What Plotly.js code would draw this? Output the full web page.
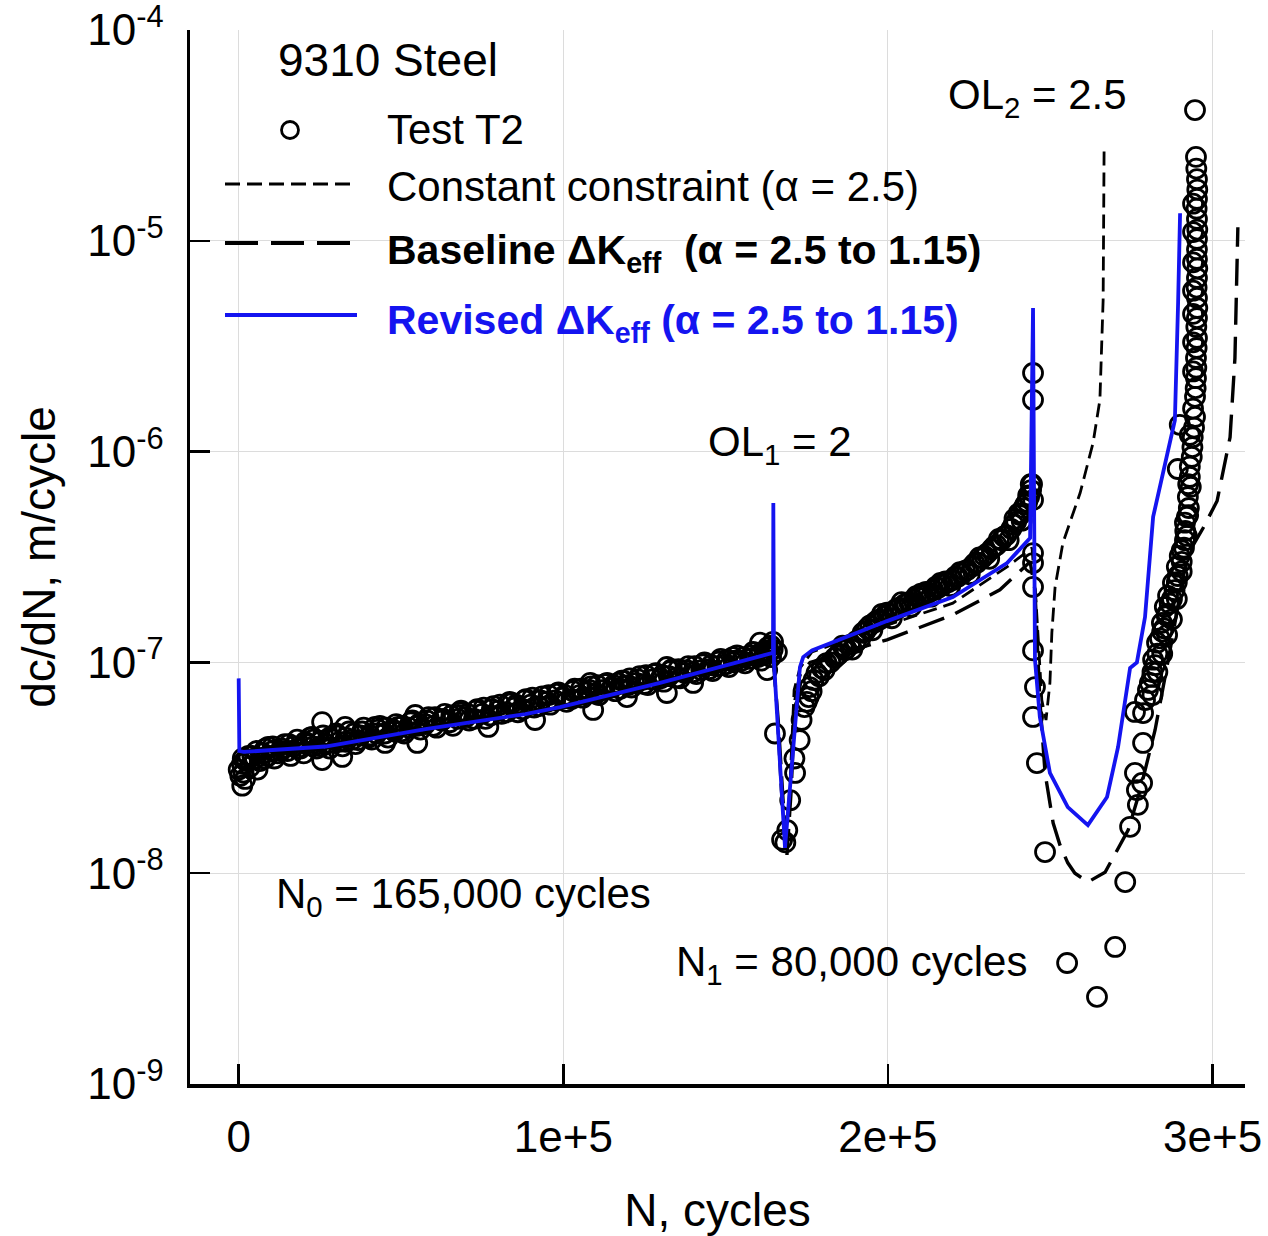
<!DOCTYPE html>
<html>
<head>
<meta charset="utf-8">
<script src="https://cdn.plot.ly/plotly-3.0.1.min.js"></script>
<style>html,body{margin:0;padding:0;background:#fff;}#chart{width:1268px;height:1236px;}</style>
</head>
<body>
<div id="chart"></div>
<script>
// ---- Test T2 data (N cycles, dc/dN m/cycle) ----
const testN_pre = [0,500,1000,1500,2500,3500,5000,6500,7500,9000,10500,12000,13500,15000,17000,19000,21000,23000,25000,27000,29000,31000,33000,35000,37500,40000,42500,45000,47500,50000,52500,55000,57500,60000,62500,65000,67500,70000,72500,75000,77500,80000,82500,85000,87500,90000,92500,95000,97500,100000,102500,105000,107500,110000,112500,115000,117500,120000,122500,125000,127500,130000,132500,135000,137500,140000,142500,145000,147500,150000,152500,155000,157500,160000,162000,163500,164500,
1250,2000,4200,5800,8200,11000,14200,16000,18000,20000,22000,24000,26000,28000,30000,32000,34000,36000,38500,41000,43500,46000,48500,51000,53500,56000,58500,61000,63500,66000,68500,71000,73500,76000,78500,81000,83500,86000,88500,91000,93500,96000,98500,101000,103500,106000,108500,111000,113500,116000,118500,121000,123500,126000,128500,131000,133500,136000,138500,141000,143500,146000,148500,151000,153500,156000,158500,161000,163000,164000,
3000,5500,8000,10500,13000,15500,18000,20500,23000,25500,28000,30500,33000,35500,38000,40500,43000,45500,48000,50500,53000,55500,58000,60500,63000,65500,68000,70500,73000,75500,78000,80500,83000,85500,88000,90500,93000,95500,98000,100500,103000,105500,108000,110500,113000,115500,118000,120500,123000,125500,128000,130500,133000,135500,138000,140500,143000,145500,148000,150500,153000,155500,158000,160500,162500,164000,
1100,2000,9100,22600,25700,25700,31900,32800,36800,42000,45100,49100,54400,55000,62700,67600,76900,84200,91300,108300,109200,116900,119600,131900,131900,140000,152300,160600,162800,164600,165800];
const testR_pre = [3.1e-8,2.9e-8,3.3e-8,3.0e-8,3.4e-8,3.2e-8,3.5e-8,3.4e-8,3.7e-8,3.6e-8,3.8e-8,3.7e-8,3.9e-8,3.8e-8,4.0e-8,3.9e-8,4.1e-8,4.0e-8,4.2e-8,4.1e-8,4.3e-8,4.2e-8,4.4e-8,4.3e-8,4.5e-8,4.4e-8,4.6e-8,4.6e-8,4.8e-8,4.7e-8,4.9e-8,5.0e-8,5.1e-8,5.0e-8,5.3e-8,5.2e-8,5.4e-8,5.5e-8,5.4e-8,5.7e-8,5.6e-8,5.9e-8,5.8e-8,6.1e-8,6.0e-8,6.3e-8,6.2e-8,6.5e-8,6.6e-8,6.8e-8,6.7e-8,7.0e-8,7.2e-8,7.1e-8,7.4e-8,7.6e-8,7.5e-8,7.8e-8,8.0e-8,7.9e-8,8.3e-8,8.4e-8,8.6e-8,8.5e-8,8.9e-8,9.0e-8,9.2e-8,9.3e-8,9.6e-8,9.8e-8,1.00e-7,1.02e-7,1.04e-7,1.06e-7,1.09e-7,1.12e-7,1.15e-7,
3.5e-8,2.8e-8,3.6e-8,3.1e-8,3.9e-8,3.5e-8,4.1e-8,3.6e-8,4.3e-8,3.7e-8,4.4e-8,3.9e-8,4.5e-8,3.9e-8,4.6e-8,4.0e-8,4.7e-8,4.1e-8,4.9e-8,4.3e-8,5.0e-8,4.4e-8,5.1e-8,4.6e-8,5.3e-8,4.8e-8,5.5e-8,4.9e-8,5.7e-8,5.0e-8,5.9e-8,5.3e-8,6.0e-8,5.4e-8,6.2e-8,5.7e-8,6.5e-8,5.8e-8,6.7e-8,6.1e-8,6.9e-8,6.3e-8,7.2e-8,6.5e-8,7.5e-8,6.8e-8,7.7e-8,7.0e-8,8.0e-8,7.3e-8,8.2e-8,7.6e-8,8.6e-8,7.8e-8,8.9e-8,8.1e-8,9.3e-8,8.4e-8,9.6e-8,8.8e-8,1.0e-7,9.1e-8,1.04e-7,9.5e-8,1.08e-7,9.9e-8,1.12e-7,1.02e-7,1.18e-7,1.06e-7,
3.6e-8,3.8e-8,3.5e-8,4.0e-8,3.8e-8,4.1e-8,3.9e-8,4.2e-8,4.3e-8,4.0e-8,4.4e-8,4.5e-8,4.2e-8,4.6e-8,4.7e-8,4.5e-8,4.8e-8,4.9e-8,4.7e-8,5.0e-8,5.2e-8,5.1e-8,5.3e-8,5.5e-8,5.4e-8,5.6e-8,5.8e-8,5.7e-8,5.9e-8,6.1e-8,6.0e-8,6.3e-8,6.4e-8,6.3e-8,6.6e-8,6.8e-8,6.6e-8,7.0e-8,7.1e-8,7.0e-8,7.3e-8,7.5e-8,7.4e-8,7.8e-8,7.9e-8,7.8e-8,8.2e-8,8.4e-8,8.3e-8,8.7e-8,8.8e-8,8.7e-8,9.1e-8,9.3e-8,9.2e-8,9.6e-8,9.8e-8,9.7e-8,1.01e-7,1.03e-7,1.02e-7,1.06e-7,1.08e-7,1.10e-7,1.14e-7,1.20e-7,
2.6e-8,3.44e-8,3.97e-8,4.43e-8,5.21e-8,3.44e-8,3.56e-8,4.94e-8,4.28e-8,4.94e-8,4.15e-8,4.94e-8,5.63e-8,4.15e-8,5.33e-8,5.63e-8,4.94e-8,6.42e-8,5.33e-8,7.99e-8,5.95e-8,7.99e-8,6.85e-8,9.51e-8,7.16e-8,7.99e-8,1.06e-7,1.24e-7,9.2e-8,1.25e-7,1.12e-7];

const testN_ol1 = [165200,167400,168400,169000,169900,171200,171400,172800,173400,174300,175000,175600,175900,176500,177100,178000,178800,179600,180500,181100,182300,183600,185000,186700,188300,190000,191500,193000,194500,196000,197500,199000,200500,202000,203500,205000,206500,208000,209500,211000,212500,214000,215500,217000,218500,220000,221500,223000,224500,226000,227500,229000,230500,232000,233500,235000,236500,238000,239500,240700,241800,242900,244100,
186000,189000,192200,195200,198200,201200,204200,207200,210200,213200,216200,219200,222200,225200,228200,231200,234200,237200,239000,241200,243500,244400,
184500,187200,190200,193600,196700,199700,202700,205700,208700,211700,214700,217700,220700,223700,226700,229700,232700,235700,238700,240300,242300,243200,244000];
const testR_ol1 = [4.6e-8,1.44e-8,1.40e-8,1.6e-8,2.22e-8,3.5e-8,2.99e-8,4.28e-8,5.33e-8,6.14e-8,6.5e-8,6.85e-8,7.64e-8,7.3e-8,8.25e-8,8.9e-8,8.6e-8,9.4e-8,9.2e-8,9.93e-8,1.0e-7,1.05e-7,1.10e-7,1.14e-7,1.21e-7,1.24e-7,1.30e-7,1.40e-7,1.50e-7,1.55e-7,1.60e-7,1.66e-7,1.70e-7,1.76e-7,1.82e-7,1.88e-7,1.93e-7,1.98e-7,2.03e-7,2.08e-7,2.14e-7,2.20e-7,2.26e-7,2.33e-7,2.40e-7,2.46e-7,2.55e-7,2.64e-7,2.75e-7,2.86e-7,2.98e-7,3.12e-7,3.28e-7,3.45e-7,3.60e-7,3.80e-7,4.02e-7,4.30e-7,4.65e-7,5.00e-7,5.40e-7,5.77e-7,6.57e-7,
1.20e-7,1.15e-7,1.38e-7,1.42e-7,1.70e-7,1.62e-7,1.93e-7,1.84e-7,2.12e-7,2.05e-7,2.38e-7,2.30e-7,2.68e-7,2.62e-7,3.15e-7,3.10e-7,3.85e-7,3.80e-7,4.80e-7,4.70e-7,6.1e-7,7.0e-7,
1.08e-7,1.16e-7,1.26e-7,1.45e-7,1.58e-7,1.72e-7,1.80e-7,1.90e-7,2.06e-7,2.16e-7,2.28e-7,2.42e-7,2.55e-7,2.72e-7,2.95e-7,3.20e-7,3.55e-7,3.95e-7,4.50e-7,5.1e-7,5.6e-7,6.2e-7,7.0e-7];

const testN_ol2 = [244700,244700,244700,244700,244700,244700,244700,245300,244700,245900,248400,255200,264400,270000,273100,274600,276100,277000,276700,278300,276100,278600,278600,279200,280100,280700,281400,281700,282300,282900,283800,284400,285300,285900,286300,287800,289000,289300,289900,292100,292100,292400,293000,293600,293900,294600,294600,294900,294900,295200,295200,295200,295200,295200,295200,295200,295200,295200,294900,294600,289900,289300,
293300,293800,294300,294800,295000,295100,295000,295300,295100,295300,295200,295300,295100,295300,295000,285000,286800,288300,290500,291200,291600,292700,
294000,294000,294000,294000,294000,294000,294000,294000,293000,293000,292500,292500,291500,291500,290500,290500,289000,289000,287500,287500,286000,286000,284500,284500,283000,283000,281500,281500];
const testR_ol2 = [2.36e-6,1.76e-6,5.89e-7,3.30e-7,2.96e-7,2.28e-7,1.14e-7,7.64e-8,5.51e-8,3.33e-8,1.26e-8,3.75e-9,2.59e-9,4.47e-9,9.08e-9,1.66e-8,2.99e-8,2.11e-8,2.48e-8,2.68e-8,5.82e-8,4.15e-8,5.75e-8,6.63e-8,7.40e-8,7.99e-8,8.53e-8,1.03e-7,9.7e-8,1.24e-7,1.30e-7,1.54e-7,1.83e-7,1.66e-7,2.07e-7,2.38e-7,2.84e-7,2.57e-7,3.20e-7,3.98e-7,4.90e-7,6.09e-7,7.58e-7,9.43e-7,1.17e-6,1.46e-6,1.82e-6,2.23e-6,2.78e-6,3.46e-6,4.30e-6,5.36e-6,6.66e-6,8.20e-6,1.02e-5,1.27e-5,1.58e-5,1.96e-5,2.50e-5,4.17e-5,1.34e-6,8.27e-7,
6.8e-7,1.05e-6,1.3e-6,2.0e-6,2.5e-6,3.1e-6,3.9e-6,4.8e-6,6.0e-6,7.4e-6,9.1e-6,1.13e-5,1.42e-5,1.75e-5,2.2e-5,1.45e-7,1.9e-7,2.2e-7,3.0e-7,3.5e-7,4.2e-7,5.4e-7,
1.6e-6,2.4e-6,3.3e-6,4.5e-6,5.8e-6,7.9e-6,1.1e-5,1.5e-5,8.5e-7,1.2e-6,5.0e-7,7.0e-7,3.8e-7,4.6e-7,2.7e-7,3.4e-7,2.0e-7,2.4e-7,1.6e-7,2.0e-7,1.35e-7,1.7e-7,1.1e-7,1.4e-7,9.0e-8,1.1e-7,7.0e-8,9.0e-8];

// ---- Model curves ----
const constN = [0,103600,164600,165600,167100,168600,169900,171100,172900,176600,199700,220000,236700,244400,245600,247400,248700,249900,250500,251500,253900,259200,263200,265300,266300,266600];
const constR = [3.76e-8,6.28e-8,1.08e-7,6.63e-8,2.48e-8,1.36e-8,2.77e-8,7.40e-8,9.40e-8,1.12e-7,1.50e-7,1.91e-7,2.84e-7,3.49e-7,1.98e-7,6.63e-8,5.33e-8,7.99e-8,1.38e-7,2.28e-7,3.69e-7,6.36e-7,1.10e-6,1.76e-6,5.24e-6,2.82e-5];

const baseN = [0,103600,164600,166200,167700,168900,170200,171400,172900,176000,199700,220000,234500,243800,245300,246800,248400,250900,253000,255400,257600,261600,266900,269400,274000,277700,282300,286900,292100,297100,301400,305400,306900,307800];
const baseR = [3.76e-8,6.21e-8,1.06e-7,5.33e-8,2.22e-8,1.22e-8,2.48e-8,6.63e-8,8.71e-8,1.00e-7,1.28e-7,1.68e-7,2.21e-7,3.00e-7,2.21e-7,6.63e-8,2.99e-8,1.73e-8,1.36e-8,1.12e-8,1.00e-8,9.08e-9,1.01e-8,1.19e-8,1.60e-8,2.48e-8,4.78e-8,1.14e-7,3.20e-7,4.34e-7,5.83e-7,1.17e-6,2.78e-6,1.16e-5];

const revN = [0,200,1500,26700,57500,88300,99000,129800,164600,164700,164900,168300,172900,173900,176600,199700,220000,236700,243800,244700,245300,246800,249900,255400,261600,267500,270900,274600,276700,279200,281700,286000,288400,289400,290000];
const revR = [8.4e-8,3.8e-8,3.76e-8,3.99e-8,4.83e-8,5.69e-8,6.13e-8,8.0e-8,1.11e-7,5.7e-7,1.0e-7,1.32e-8,9.5e-8,1.06e-7,1.14e-7,1.57e-7,2.04e-7,2.96e-7,3.89e-7,4.8e-6,1.03e-7,5.51e-8,2.99e-8,2.06e-8,1.69e-8,2.30e-8,3.97e-8,9.40e-8,1.00e-7,1.64e-7,4.90e-7,9.63e-7,1.41e-6,5.13e-6,1.35e-5];

const xTickVals = [0,100000,200000,300000];
const xTickText = ['0','1e+5','2e+5','3e+5'];
const yTickVals = [1e-9,1e-8,1e-7,1e-6,1e-5,1e-4];
const yTickText = ['10<sup>-9</sup>','10<sup>-8</sup>','10<sup>-7</sup>','10<sup>-6</sup>','10<sup>-5</sup>','10<sup>-4</sup>'];

const BLUE = '#1414f0';
const FONT = 'Liberation Sans, Arial, sans-serif';

const traces = [
  {x: testN_pre.concat(testN_ol1, testN_ol2), y: testR_pre.concat(testR_ol1, testR_ol2),
   type:'scatter', mode:'markers', name:'Test T2',
   marker:{symbol:'circle-open', size:19, color:'#000', line:{width:2.8, color:'#000'}}},
  {x: constN, y: constR, type:'scatter', mode:'lines', name:'Constant constraint',
   line:{color:'#000', width:2.8, dash:'14px,7px'}},
  {x: baseN, y: baseR, type:'scatter', mode:'lines', name:'Baseline',
   line:{color:'#000', width:3.4, dash:'27px,12px'}},
  {x: revN, y: revR, type:'scatter', mode:'lines', name:'Revised',
   line:{color:BLUE, width:3.8}}
];

// legend helpers in paper coordinates (plot area: left 190, right 1245, top 30, bottom 1084)
function px(xp){ return (xp-190)/1055; }
function py(yp){ return (1084-yp)/1054; }

const shapes = [
  {type:'line', xref:'paper', yref:'paper', x0:px(225), x1:px(357), y0:py(184), y1:py(184), line:{color:'#000', width:2.8, dash:'15px,7px'}},
  {type:'line', xref:'paper', yref:'paper', x0:px(225), x1:px(357), y0:py(243), y1:py(243), line:{color:'#000', width:3.8, dash:'33px,13px'}},
  {type:'line', xref:'paper', yref:'paper', x0:px(225), x1:px(357), y0:py(315), y1:py(315), line:{color:BLUE, width:3.8}},
  {type:'circle', xref:'paper', yref:'paper', xsizemode:'pixel', ysizemode:'pixel', xanchor:px(290), yanchor:py(130), x0:-8.5, x1:8.5, y0:-8.5, y1:8.5, line:{color:'#000', width:2.8}}
];

function ann(text, xp, yp, color, size){
  return {text:text, xref:'paper', yref:'paper', x:px(xp), y:py(yp), xanchor:'left', yanchor:'middle',
          showarrow:false, font:{family:FONT, size:size||42, color:color||'#000'}};
}

const annotations = [
  ann('9310 Steel', 276, 60, '#000', 46),
  ann('Test T2', 385, 130),
  ann('Constant constraint (α = 2.5)', 385, 187),
  ann('<b>Baseline ΔK<sub>eff</sub>  (α = 2.5 to 1.15)</b>', 385, 253, '#000', 41),
  ann('<b>Revised ΔK<sub>eff</sub> (α = 2.5 to 1.15)</b>', 385, 323, BLUE, 41),
  ann('OL<sub>2</sub> = 2.5', 946, 97),
  ann('OL<sub>1</sub> = 2', 706, 444),
  ann('N<sub>0</sub> = 165,000 cycles', 274, 897),
  ann('N<sub>1</sub> = 80,000 cycles', 674, 964)
];

const layout = {
  width:1268, height:1236,
  margin:{l:190, r:23, t:30, b:152},
  paper_bgcolor:'#fff', plot_bgcolor:'#fff',
  showlegend:false,
  font:{family:FONT, color:'#000', size:42},
  xaxis:{
    range:[-15000, 310000], tickvals:xTickVals, ticktext:xTickText,
    ticks:'inside', ticklen:20, tickwidth:2.5, tickcolor:'#000',
    showline:true, linecolor:'#000', linewidth:3.5,
    showgrid:true, gridcolor:'#dcdcdc', gridwidth:1, zeroline:false,
    tickfont:{family:FONT, size:44, color:'#000'},
    ticklabelstandoff:12, ticklabeloverflow:'allow',
    title:{text:'N, cycles', font:{family:FONT, size:46, color:'#000'}, standoff:36}
  },
  yaxis:{
    type:'log', range:[-9,-4], tickvals:yTickVals, ticktext:yTickText,
    ticks:'inside', ticklen:20, tickwidth:2.5, tickcolor:'#000',
    showline:true, linecolor:'#000', linewidth:3.5,
    showgrid:true, gridcolor:'#dcdcdc', gridwidth:1, zeroline:false,
    tickfont:{family:FONT, size:44, color:'#000'},
    ticklabelstandoff:14, ticklabeloverflow:'allow',
    title:{text:'dc/dN, m/cycle', font:{family:FONT, size:46, color:'#000'}, standoff:18}
  },
  shapes:shapes,
  annotations:annotations
};

Plotly.newPlot('chart', traces, layout, {displayModeBar:false, staticPlot:true});
</script>
</body>
</html>
